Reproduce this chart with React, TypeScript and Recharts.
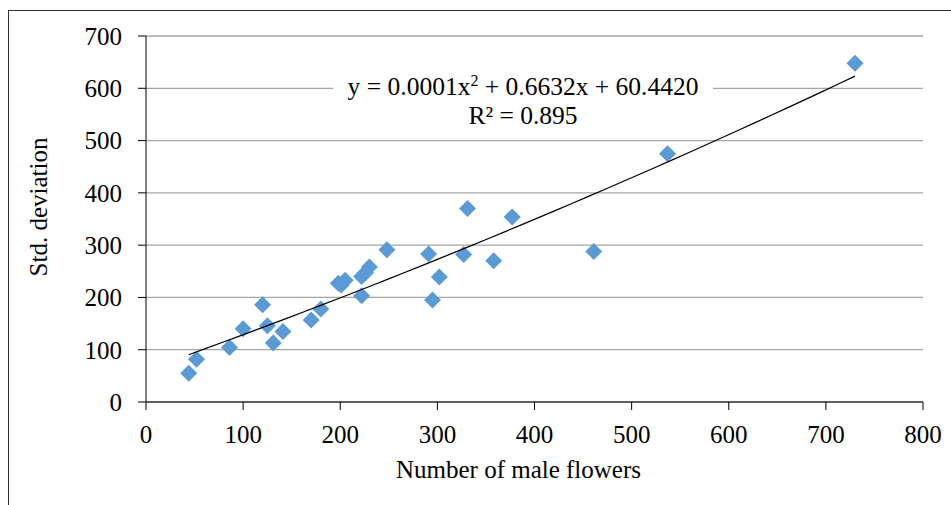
import React from 'react';
import { ScatterChart, Scatter, XAxis, YAxis, CartesianGrid, Label } from 'recharts';

// male flowers (x) vs std. deviation (y)
const maleFlowers = [44, 52, 86, 100, 120, 125, 131, 141, 170, 180, 198, 201, 205, 222, 222, 226, 230, 248, 291, 295, 302, 327, 331, 358, 377, 461, 537, 730];
const stdDeviation = [55, 82, 104, 140, 186, 146, 113, 135, 157, 178, 227, 224, 233, 203, 240, 247, 258, 291, 283, 195, 239, 282, 370, 270, 354, 288, 475, 648];

const xTicks = [0, 100, 200, 300, 400, 500, 600, 700, 800];
const yTicks = [0, 100, 200, 300, 400, 500, 600, 700];

const equationText = '0.0001';
const equationRest = ' + 0.6632x + 60.4420';
const rSquared = 'R² = 0.895';

const FONT = '"Liberation Serif", "Times New Roman", serif';
const BLUE = '#5b9bd5';

const points = maleFlowers.map((x, i) => ({ x, y: stdDeviation[i] }));

// least squares quadratic fit, same as the spreadsheet's polynomial trendline
function fitQuadratic(xs: number[], ys: number[]) {
  let n = xs.length, sx = 0, sx2 = 0, sx3 = 0, sx4 = 0, sy = 0, sxy = 0, sx2y = 0;
  xs.forEach((x, i) => {
    const y = ys[i];
    sx += x; sx2 += x * x; sx3 += x ** 3; sx4 += x ** 4;
    sy += y; sxy += x * y; sx2y += x * x * y;
  });
  const det = (m: number[][]) =>
    m[0][0] * (m[1][1] * m[2][2] - m[1][2] * m[2][1]) -
    m[0][1] * (m[1][0] * m[2][2] - m[1][2] * m[2][0]) +
    m[0][2] * (m[1][0] * m[2][1] - m[1][1] * m[2][0]);
  const M = [[sx4, sx3, sx2], [sx3, sx2, sx], [sx2, sx, n]];
  const r = [sx2y, sxy, sy];
  const D = det(M);
  const col = (k: number) => M.map((row, i) => row.map((v, j) => (j === k ? r[i] : v)));
  return { a: det(col(0)) / D, b: det(col(1)) / D, c: det(col(2)) / D };
}

const fit = fitQuadratic(maleFlowers, stdDeviation);
const xMin = Math.min(...maleFlowers);
const xMax = Math.max(...maleFlowers);
const trend = Array.from({ length: 41 }, (_, i) => {
  const x = xMin + ((xMax - xMin) * i) / 40;
  return { x, y: fit.a * x * x + fit.b * x + fit.c };
});

const Diamond = (props: any) => {
  const { cx, cy } = props;
  const r = 8.5;
  return <polygon points={`${cx},${cy - r} ${cx + r},${cy} ${cx},${cy + r} ${cx - r},${cy}`} fill={BLUE} />;
};

const tickStyle = { fontSize: 25, fill: '#000', fontFamily: FONT };

export default function App() {
  return (
    <div style={{ position: 'fixed', left: 0, top: 0, width: 951, height: 505, background: '#fff', overflow: 'hidden' }}>
      <div style={{ position: 'absolute', left: 8, top: 10, width: 1000, height: 600, borderLeft: '1px solid #333', borderTop: '1px solid #333' }} />
      <div style={{ position: 'absolute', left: 0, top: 0 }}>
        <ScatterChart width={951} height={505} margin={{ top: 36, right: 28, bottom: 43, left: 0 }}>
          <CartesianGrid vertical={false} stroke="#a6a6a6" strokeWidth={1.3} />
          <XAxis
            type="number"
            dataKey="x"
            domain={[0, 800]}
            ticks={xTicks}
            interval={0}
            height={60}
            stroke="#000"
            tickSize={8}
            tickMargin={15}
            tick={tickStyle}
            allowDataOverflow
          >
            <Label
              value="Number of male flowers"
              position="insideBottom"
              offset={-16}
              dx={-16}
              style={{ fontSize: 25, fill: '#000', fontFamily: FONT }}
            />
          </XAxis>
          <YAxis
            type="number"
            dataKey="y"
            domain={[0, 700]}
            ticks={yTicks}
            interval={0}
            width={146}
            stroke="#000"
            tickSize={8}
            tickMargin={16}
            tick={tickStyle}
          >
            <Label
              value="Std. deviation"
              angle={-90}
              position="insideLeft"
              offset={38}
              dy={-12}
              style={{ fontSize: 25, fill: '#000', fontFamily: FONT, textAnchor: 'middle' }}
            />
          </YAxis>
          <Scatter data={points} shape={<Diamond />} isAnimationActive={false} />
          <Scatter
            data={trend}
            line={{ stroke: '#000', strokeWidth: 1.2 }}
            shape={() => <g />}
            isAnimationActive={false}
          />
        </ScatterChart>
      </div>
      <div
        style={{
          position: 'absolute',
          left: 333,
          top: 72,
          width: 380,
          background: '#fff',
          textAlign: 'center',
          fontFamily: FONT,
          fontSize: 25.5,
          lineHeight: '29px',
          color: '#000',
        }}
      >
        <div>
          y = {equationText}x<sup style={{ fontSize: 16, lineHeight: 0 }}>2</sup>
          {equationRest}
        </div>
        <div>{rSquared}</div>
      </div>
    </div>
  );
}
